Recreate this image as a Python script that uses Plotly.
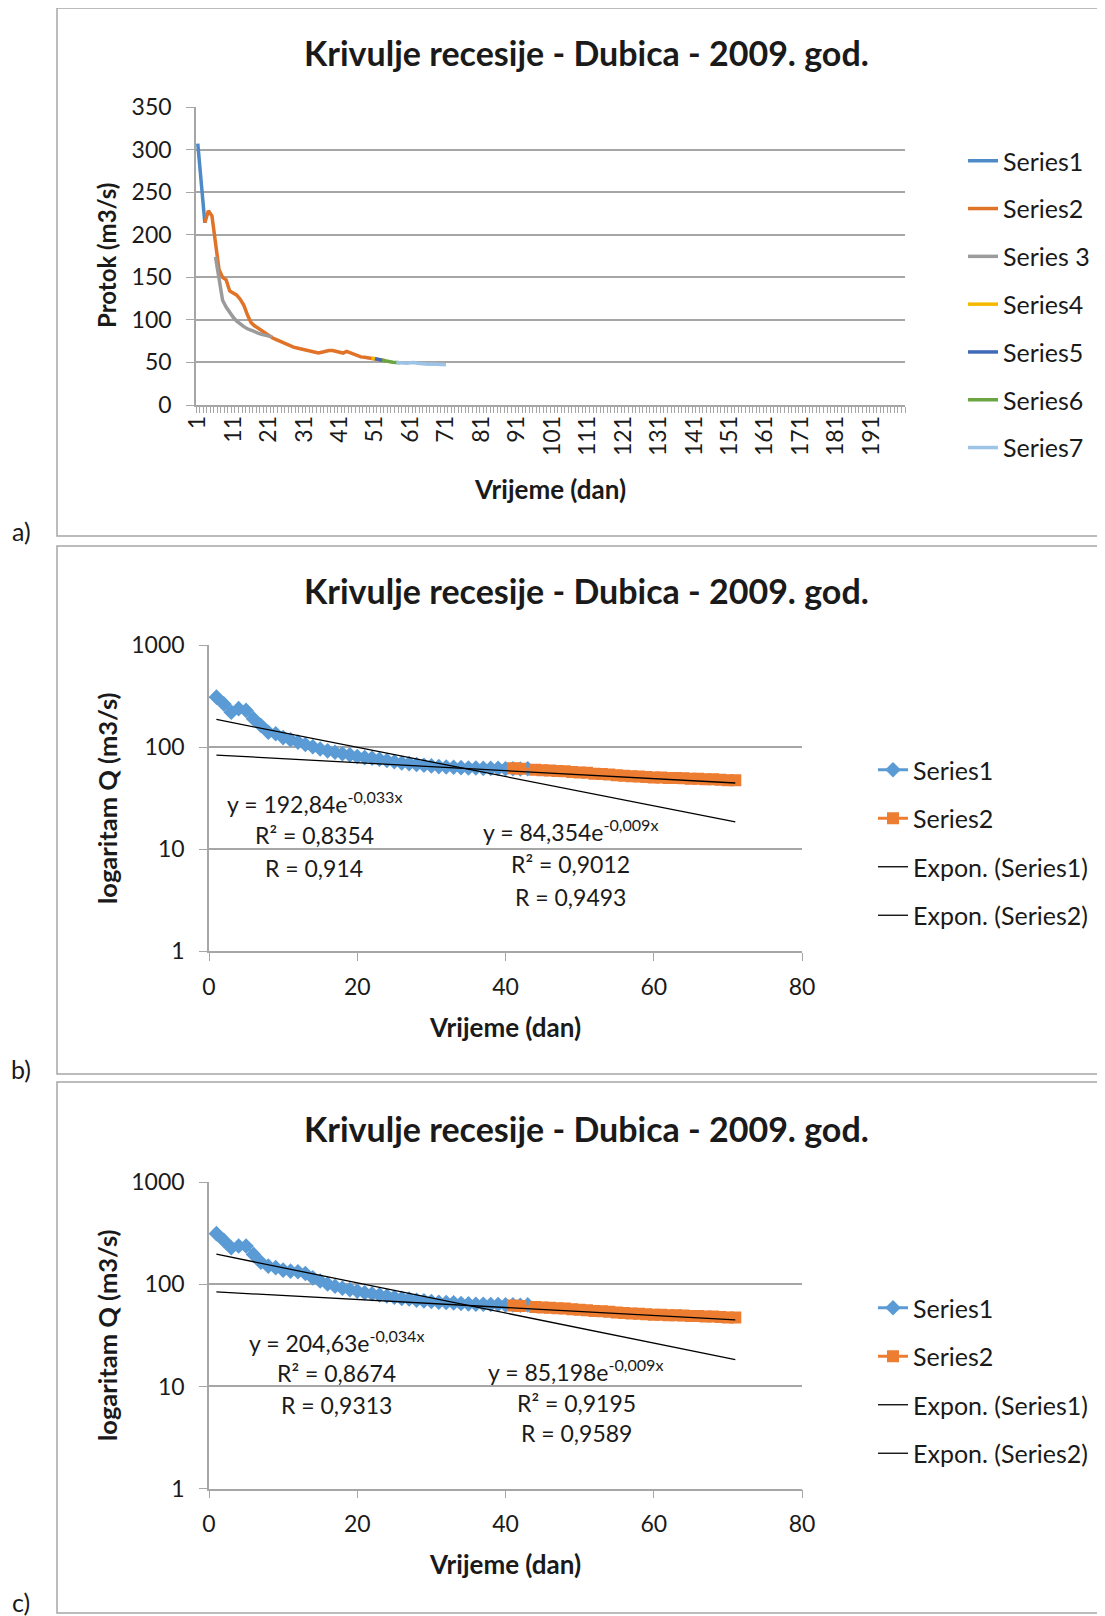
import numpy as np
import plotly.graph_objects as go

# page body adds an 8 px margin: the figure is placed at (8, 8) of the window
OFF = 8
W, H = 1105 - OFF, 1616 - OFF
FONT = "Lato, 'Open Sans', sans-serif"
GRID = "#A6A6A6"
TXT = "#1a1a1a"

# ---------------- Panel a data (daily discharge, m3/s) ----------------
A_S1_DAYS = [1, 2, 3]
A_S1_Q = [307, 261, 214]
A_S2_DAYS = list(range(3, 55))
A_S2_Q = [214, 228, 222, 190, 159, 150, 147, 134, 132, 129,
          124, 117, 106, 97, 93, 90, 87, 85, 82, 79,
          77, 75, 73, 71, 69.5, 68, 67, 66, 65, 63.5,
          62.5, 62, 61, 62, 63.5, 64, 64, 63, 62, 61,
          63, 61.5, 59, 57.5, 56.5, 56, 55.5, 55, 54.5, 53.5,
          53, 52]
A_S3_DAYS = list(range(6, 23))
A_S3_Q = [174, 150, 123, 115, 108, 103, 98.5, 95, 92, 89.5, 87.5, 86, 84.5, 83, 82, 81, 80]
A_S4_DAYS = [50, 51]
A_S4_Q = [55, 54.5]
A_S5_DAYS = [51, 52, 53]
A_S5_Q = [54.5, 53.5, 52.5]
A_S6_DAYS = [53, 54, 55, 56, 57, 58]
A_S6_Q = [52.5, 51.5, 50.8, 50.3, 50, 49.5]
A_S7_DAYS = list(range(57, 72))
A_S7_Q = [50, 49.5, 49.3, 49, 49.5, 49.8, 49, 48.5, 48.3, 48, 48.3, 48, 47.8, 47.5, 47.3]

A_NAMES = ["Series1", "Series2", "Series 3", "Series4", "Series5", "Series6", "Series7"]
A_COLORS = ["#4E8AC8", "#E07328", "#9B9B9B", "#F5B800", "#3F6AB8", "#6BA542", "#9DC3E6"]

# ---------------- Panel b / c data ----------------
S1_DAYS = list(range(1, 44))
B_S1_Q = [309, 265, 220, 238, 229, 190, 163, 140, 135, 124,
          118, 112, 106, 101, 96, 92, 89, 86, 84, 81,
          79, 78, 76, 74, 72, 70, 69, 67.5, 66.5, 65.5,
          64.5, 64, 63.5, 63, 62.5, 62.5, 62, 62, 62, 61.5,
          61.5, 61, 61.5]
C_S1_Q = [315, 270, 229, 238, 238, 197, 165, 151, 146, 138,
          135, 133, 128, 116, 108, 101, 96, 92, 89, 86,
          83, 81, 79, 77, 75, 73, 72, 70, 69, 68,
          67, 66.5, 66, 65, 64.5, 64, 64, 63.5, 63.5, 63,
          63, 62.5, 63]
S2_DAYS = [41, 42] + list(range(44, 72))
S2_Q = [62, 61.5, 60, 59.5, 59, 58.5, 58, 57, 56.5, 56,
        55, 54.5, 54, 53, 52.5, 52, 51.5, 51, 50.5, 50.5,
        50, 50, 49.5, 49, 49, 48.5, 48.5, 48, 47.5, 47.5]

# Excel exponential trend-line coefficients (y = a * e^(b x))
B_FIT1 = (192.84, -0.033)
B_FIT2 = (84.354, -0.009)
C_FIT1 = (204.63, -0.034)
C_FIT2 = (85.198, -0.009)
FIT_X = np.arange(1, 72)

TITLE = "Krivulje recesije - Dubica - 2009. god."
XTITLE = "Vrijeme (dan)"

fig = go.Figure()

# Panel a traces
for days, q, name, col in zip(
        [A_S1_DAYS, A_S2_DAYS, A_S3_DAYS, A_S4_DAYS, A_S5_DAYS, A_S6_DAYS, A_S7_DAYS],
        [A_S1_Q, A_S2_Q, A_S3_Q, A_S4_Q, A_S5_Q, A_S6_Q, A_S7_Q],
        A_NAMES, A_COLORS):
    fig.add_trace(go.Scatter(x=days, y=q, mode="lines", name=name,
                             line=dict(color=col, width=3.5),
                             xaxis="x", yaxis="y", legend="legend",
                             legendgroup="a" + name))

# Panels b and c
for ax, leg, s1q, fit1, fit2 in [("2", "legend2", B_S1_Q, B_FIT1, B_FIT2),
                                  ("3", "legend3", C_S1_Q, C_FIT1, C_FIT2)]:
    fig.add_trace(go.Scatter(x=S1_DAYS, y=s1q, mode="lines+markers", name="Series1",
                             line=dict(color="#5B9BD5", width=3),
                             marker=dict(symbol="diamond", size=12, color="#5B9BD5"),
                             xaxis="x" + ax, yaxis="y" + ax, legend=leg, legendgroup=leg + "s1"))
    fig.add_trace(go.Scatter(x=S2_DAYS, y=S2_Q, mode="lines+markers", name="Series2",
                             line=dict(color="#ED7D31", width=3),
                             marker=dict(symbol="square", size=12, color="#ED7D31"),
                             xaxis="x" + ax, yaxis="y" + ax, legend=leg, legendgroup=leg + "s2"))
    fig.add_trace(go.Scatter(x=FIT_X, y=fit1[0] * np.exp(fit1[1] * FIT_X), mode="lines",
                             name="Expon. (Series1)", line=dict(color="black", width=1.3),
                             xaxis="x" + ax, yaxis="y" + ax, legend=leg, legendgroup=leg + "e1"))
    fig.add_trace(go.Scatter(x=FIT_X, y=fit2[0] * np.exp(fit2[1] * FIT_X), mode="lines",
                             name="Expon. (Series2)", line=dict(color="black", width=1.3),
                             xaxis="x" + ax, yaxis="y" + ax, legend=leg, legendgroup=leg + "e2"))


def fx(px):
    return (px - OFF) / W


def fy(py):
    return 1 - (py - OFF) / H


tickfont = dict(family=FONT, size=23, color=TXT)

axis_common = dict(showline=True, linecolor=GRID, linewidth=1.5, zeroline=False,
                   tickfont=tickfont, tickcolor=GRID, fixedrange=True, automargin=False)

layout = dict(
    width=W, height=H, margin=dict(l=0, r=0, t=0, b=0, pad=0, autoexpand=False),
    paper_bgcolor="white", plot_bgcolor="white",
    font=dict(family=FONT, size=23, color=TXT),
    xaxis=dict(domain=[fx(196), fx(905)], anchor="y", range=[0.5, 200.5],
               tickmode="linear", tick0=1, dtick=10, ticks="", tickangle=-90,
               showgrid=False, ticklabelstandoff=0,
               minor=dict(tickmode="linear", tick0=0.5, dtick=1, ticks="outside",
                          ticklen=6, tickcolor=GRID, showgrid=False),
               **axis_common),
    yaxis=dict(domain=[fy(405), fy(107)], anchor="x", range=[0, 350], dtick=50,
               showgrid=True, gridcolor=GRID, gridwidth=1.5, ticks="outside",
               ticklen=8, ticklabelstandoff=10, **axis_common),
)

for ax, top, bot in [("2", 645, 951.4), ("3", 1182.4, 1488.5)]:
    layout["xaxis" + ax] = dict(domain=[fx(209), fx(802)], anchor="y" + ax, range=[0, 80],
                                dtick=20, ticks="outside", ticklen=8, showgrid=False,
                                ticklabelstandoff=6, **axis_common)
    layout["yaxis" + ax] = dict(domain=[fy(bot), fy(top)], anchor="x" + ax, type="log",
                                range=[0, 3], tickmode="array",
                                tickvals=[1, 10, 100, 1000], ticktext=["1", "10", "100", "1000"],
                                showgrid=True, gridcolor=GRID, gridwidth=1.5, ticks="outside",
                                ticklen=8, ticklabelstandoff=10, **axis_common)

leg_common = dict(xanchor="left", yanchor="top", bgcolor="rgba(0,0,0,0)",
                  font=dict(family=FONT, size=25, color=TXT),
                  traceorder="grouped")
layout["legend"] = dict(x=fx(963), y=fy(138), tracegroupgap=12.3, **leg_common)
layout["legend2"] = dict(x=fx(873), y=fy(747), tracegroupgap=13, **leg_common)
layout["legend3"] = dict(x=fx(873), y=fy(1285), tracegroupgap=13, **leg_common)

# panel frames
shapes = []
for top, bot in [(8, 536), (546, 1074), (1082, 1613)]:
    shapes.append(dict(type="rect", xref="paper", yref="paper",
                       x0=fx(57), x1=1.05, y0=fy(bot), y1=fy(top),
                       line=dict(color=GRID, width=1.5), fillcolor="rgba(0,0,0,0)", layer="below"))
layout["shapes"] = shapes

ann = []


def text(x, y, s, size=23, bold=False, angle=0):
    ann.append(dict(x=fx(x), y=fy(y), xref="paper", yref="paper", showarrow=False,
                    text=("<b>%s</b>" % s) if bold else s, textangle=angle,
                    xanchor="center", yanchor="middle",
                    font=dict(family=FONT, size=size, color=TXT)))


# titles
for ty in [52, 590, 1128]:
    text(586, ty, TITLE, size=34, bold=True)
# axis titles
text(550, 489, XTITLE, size=26, bold=True)
text(505, 1027, XTITLE, size=26, bold=True)
text(505, 1564, XTITLE, size=26, bold=True)
text(107, 256, "Protok (m3/s)", size=24, bold=True, angle=-90)
text(107, 798, "logaritam Q (m3/s)", size=25.5, bold=True, angle=-90)
text(107, 1335, "logaritam Q (m3/s)", size=25.5, bold=True, angle=-90)
# panel labels
text(21, 531, "a)", size=25)
text(21, 1069, "b)", size=25)
text(21, 1602, "c)", size=25)


def eq(a, b):
    return "y = %se<sup>%sx</sup>" % (str(a).replace(".", ","), str(b).replace(".", ","))


# trend-line labels
text(314, 802, eq(*B_FIT1))
text(314, 835, "R² = 0,8354")
text(314, 868, "R = 0,914")
text(570, 830, eq(*B_FIT2))
text(570, 864, "R² = 0,9012")
text(570, 897, "R = 0,9493")
text(336, 1341, eq(*C_FIT1))
text(336, 1373, "R² = 0,8674")
text(336, 1405, "R = 0,9313")
text(575, 1370, eq(*C_FIT2))
text(576, 1403, "R² = 0,9195")
text(576, 1433, "R = 0,9589")

layout["annotations"] = ann
fig.update_layout(**layout)
fig.write_html("out.html")
